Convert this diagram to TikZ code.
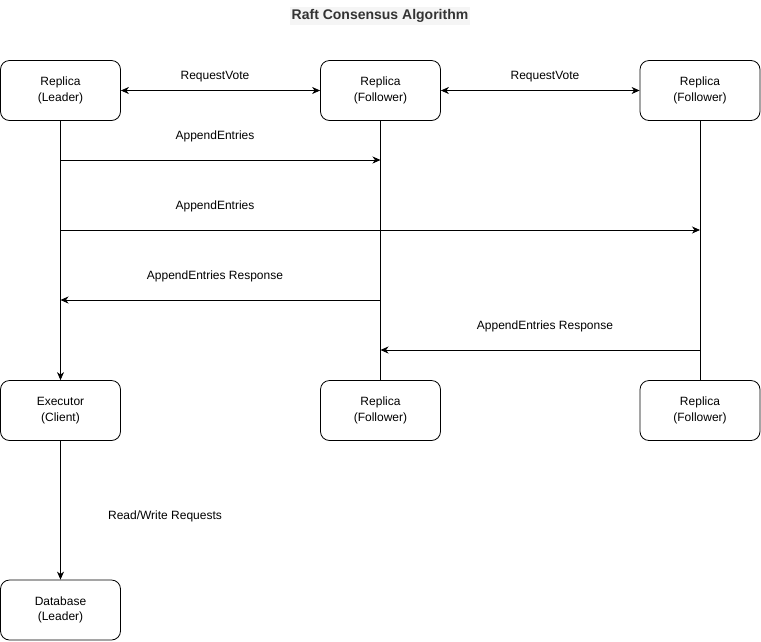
\documentclass[tikz,border=0pt]{standalone}
\usepackage{fontspec}
\setmainfont{Liberation Sans}
\usetikzlibrary{arrows.meta}
\definecolor{titlegray}{HTML}{333333}
\definecolor{titlebg}{HTML}{F5F5F5}
\tikzset{
  box/.style={draw=black, line width=0.8pt, rounded corners=9pt, minimum width=120pt, minimum height=60pt, align=center, font=\fontsize{12}{15.5}\selectfont, inner sep=0pt},
  conn/.style={draw=black, line width=0.8pt},
  tip/.style={-{Stealth[length=8pt,width=7pt,inset=2.5pt]}},
  btip/.style={{Stealth[length=8pt,width=7pt,inset=2.5pt]}-{Stealth[length=8pt,width=7pt,inset=2.5pt]}},
  lbl/.style={font=\fontsize{12}{14}\selectfont, inner sep=1pt}
}
\newcommand{\boxlabel}[2]{\raisebox{-2.2pt}{\begin{tabular}{@{}c@{}}#1\\#2\end{tabular}}}
\begin{document}
\begin{tikzpicture}[x=1pt,y=-1pt]
\useasboundingbox (0,0) rectangle (761,641);
\node[fill=titlebg, text=titlegray, font=\bfseries\fontsize{14}{16}\selectfont, inner sep=2pt] (title) at (380,16) {Raft Consensus Algorithm};
% top row
\node[box] (L) at (60.5,90.5) {\boxlabel{Replica}{(Leader)}};
\node[box] (F1) at (380.5,90.5) {\boxlabel{Replica}{(Follower)}};
\node[box] (F2) at (700,90.5) {\boxlabel{Replica}{(Follower)}};
% bottom row
\node[box] (E) at (60.5,410.5) {\boxlabel{Executor}{(Client)}};
\node[box] (F1b) at (380.5,410.5) {\boxlabel{Replica}{(Follower)}};
\node[box] (F2b) at (700,410.5) {\boxlabel{Replica}{(Follower)}};
\node[box] (D) at (60.5,610) {\boxlabel{Database}{(Leader)}};
% request vote
\draw[conn,btip] (L.east) -- (F1.west);
\draw[conn,btip] (F1.east) -- (F2.west);
\node[lbl] (rv1) at (215,76.5) {RequestVote};
\node[lbl] (rv2) at (545,76.5) {RequestVote};
% vertical lifelines
\draw[conn,tip] (L.south) -- (E.north);
\draw[conn] (F1.south) -- (F1b.north);
\draw[conn] (F2.south) -- (F2b.north);
% points on lifelines
\coordinate (l160) at (L.south |- 0,160);
\coordinate (m160) at (F1.south |- 0,160);
\coordinate (l230) at (L.south |- 0,230);
\coordinate (r230) at (F2.south |- 0,230);
\coordinate (m300) at (F1.south |- 0,300);
\coordinate (l300) at (L.south |- 0,300);
\coordinate (r350) at (F2.south |- 0,350);
\coordinate (m350) at (F1.south |- 0,350);
\draw[conn,tip] (l160) -- (m160);
\node[lbl] (ae1) at (215,136.5) {AppendEntries};
\draw[conn,tip] (l230) -- (r230);
\node[lbl] (ae2) at (215,206.5) {AppendEntries};
\draw[conn,tip] (m300) -- (l300);
\node[lbl] (aer1) at (215,276.5) {AppendEntries Response};
\draw[conn,tip] (r350) -- (m350);
\node[lbl] (aer2) at (545,326.5) {AppendEntries Response};
% executor to database
\draw[conn,tip] (E.south) -- (D.north);
\node[lbl] (rw) at (165,516.5) {Read/Write Requests};
\end{tikzpicture}
\end{document}
